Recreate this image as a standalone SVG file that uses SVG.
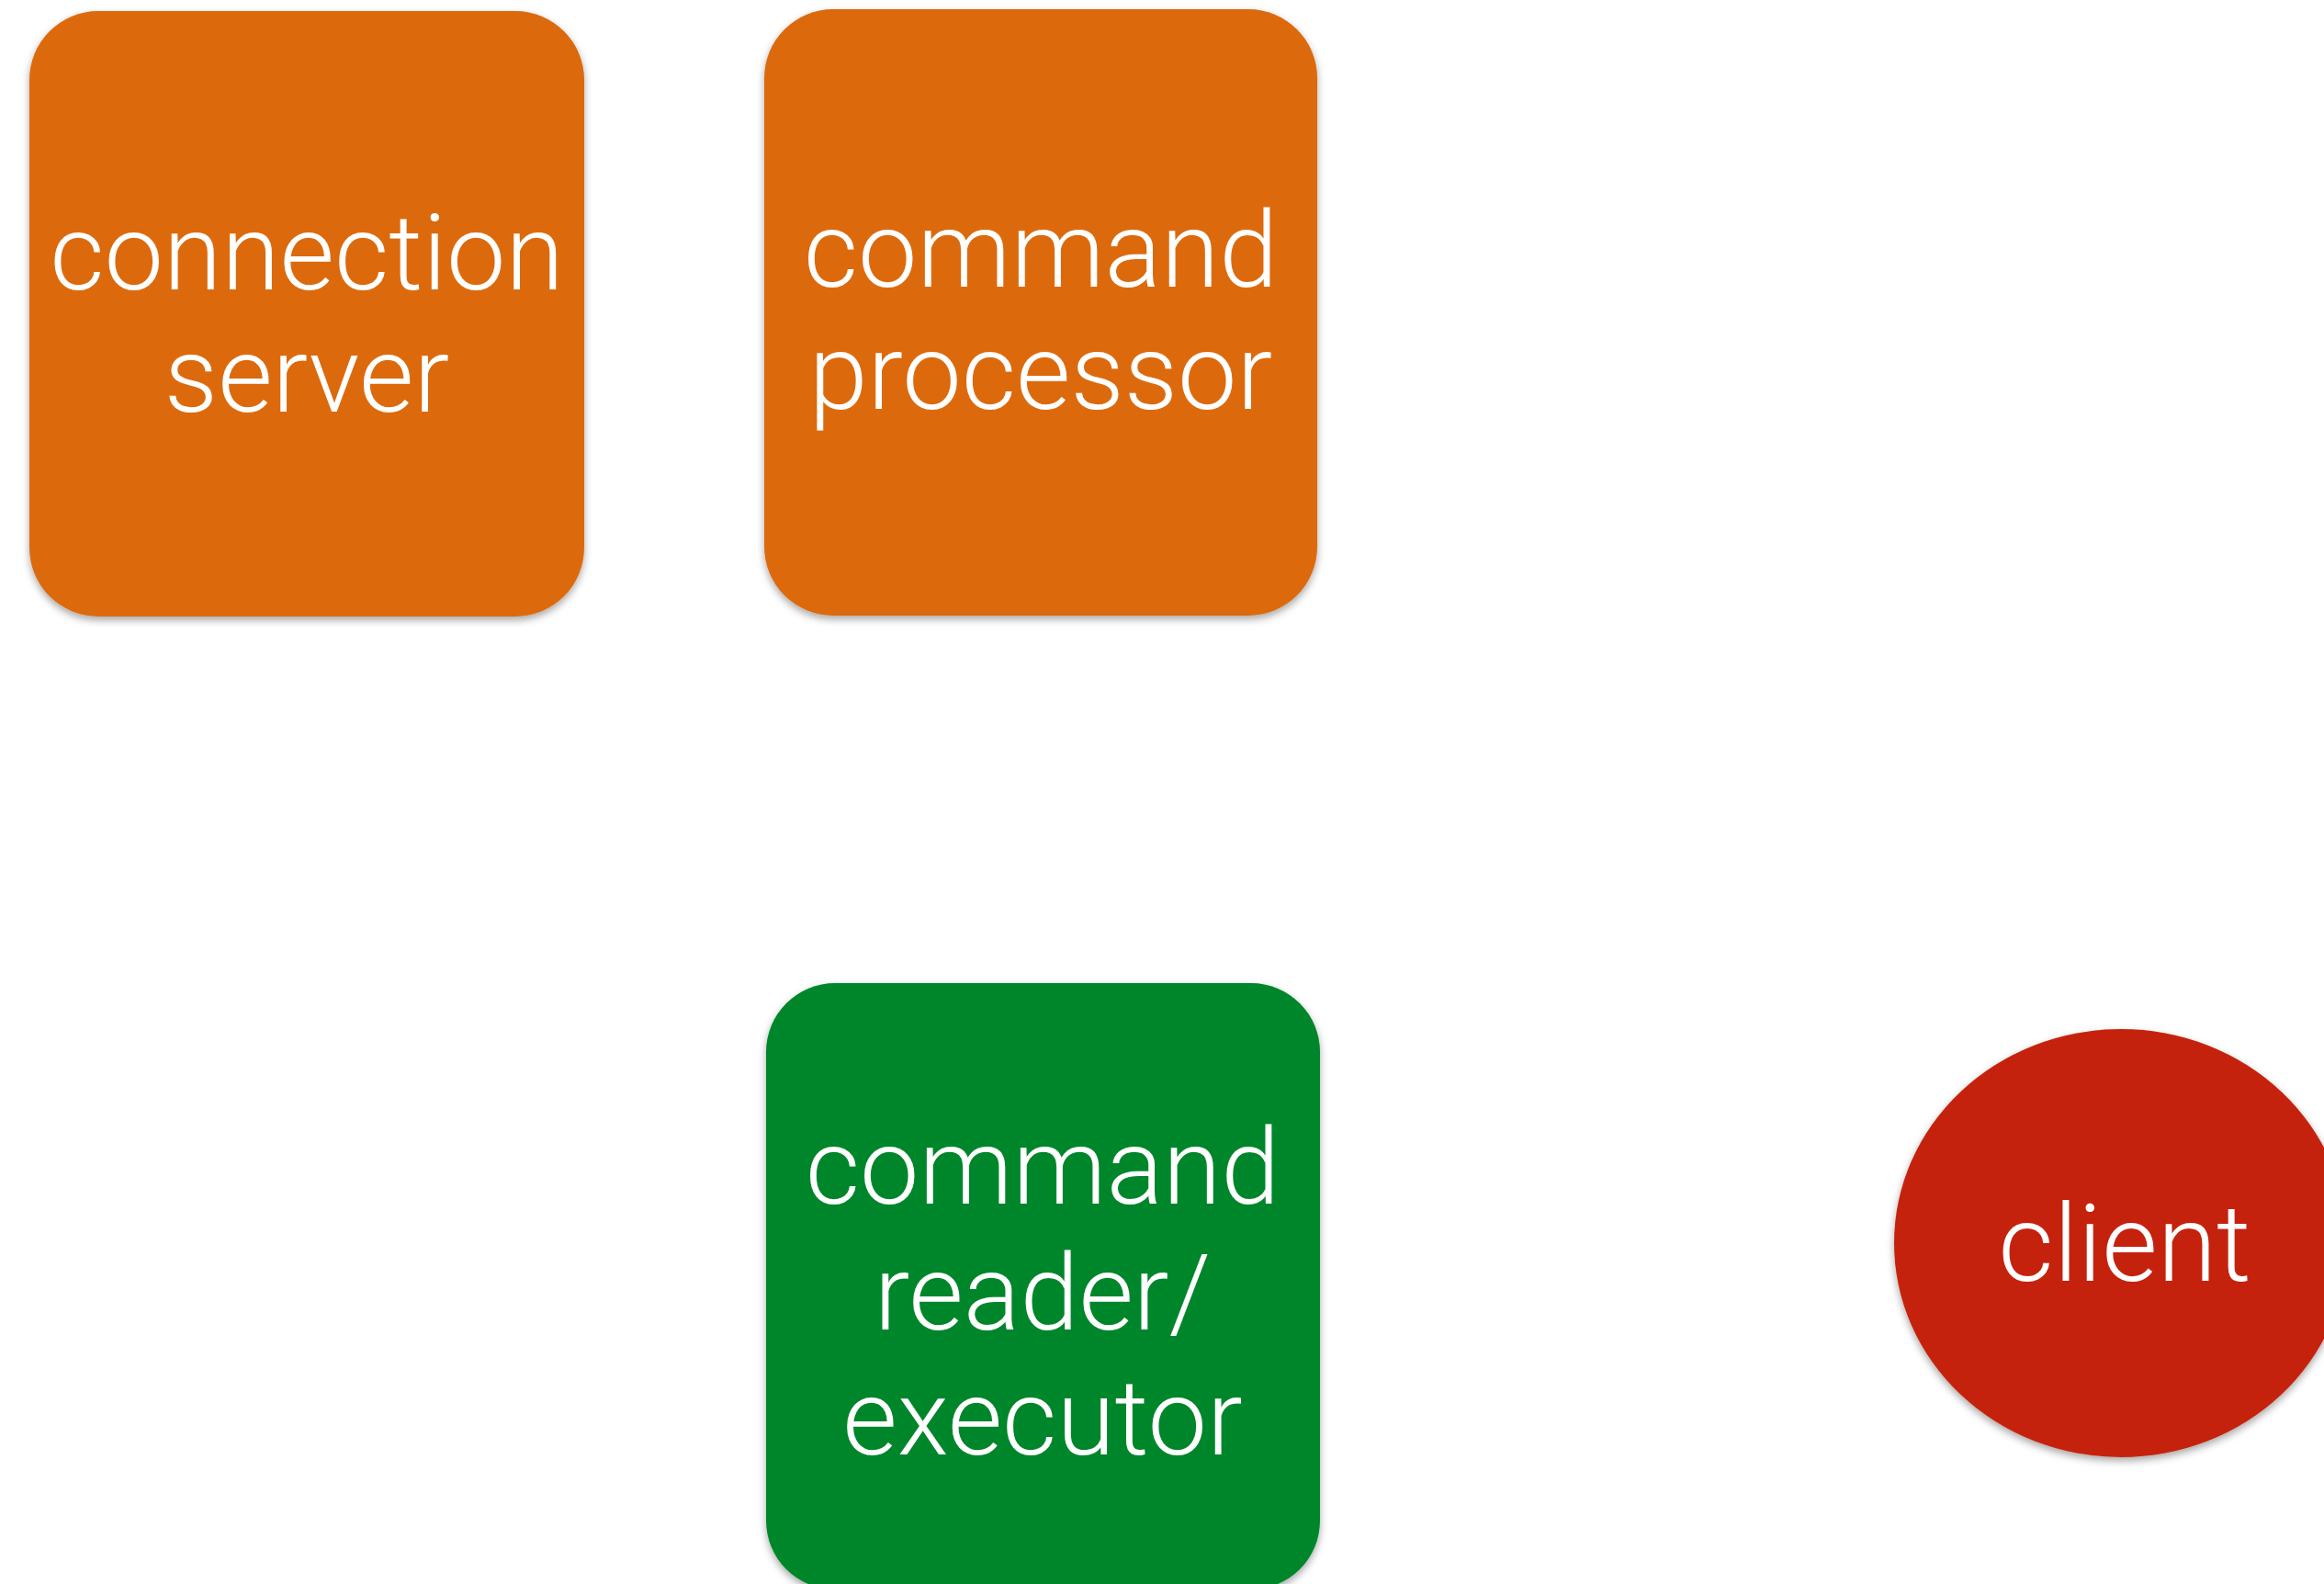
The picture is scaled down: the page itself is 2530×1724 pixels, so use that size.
<svg xmlns="http://www.w3.org/2000/svg" width="2530" height="1724" viewBox="0 0 2530 1724">
  <style>
    .label { font-family: Roboto, "Liberation Sans", "DejaVu Sans", sans-serif; font-weight: 300; font-size: 115px; fill: #ffffff; text-anchor: middle; }
    .orange { fill: #DC6A11; }
    .green { fill: #02862C; }
    .red { fill: #C52408; }
  </style>
  <defs>
    <filter id="shadow" x="-10%" y="-10%" width="120%" height="125%">
      <feDropShadow dx="0" dy="4" stdDeviation="4" flood-color="#000000" flood-opacity="0.35"/>
    </filter>
  </defs>
  <rect width="2530" height="1724" fill="#ffffff"/>

  <g id="connection-server">
    <rect class="orange" x="32" y="12" width="604" height="659" rx="75" ry="75" filter="url(#shadow)"/>
    <text class="label" x="334" y="315">connection</text>
    <text class="label" x="334" y="448">server</text>
  </g>

  <g id="command-processor">
    <rect class="orange" x="832" y="10" width="602" height="660" rx="75" ry="75" filter="url(#shadow)"/>
    <text class="label" x="1133" y="312">command</text>
    <text class="label" x="1133" y="445">processor</text>
  </g>

  <g id="command-reader-executor">
    <rect class="green" x="834" y="1070" width="603" height="660" rx="75" ry="75" filter="url(#shadow)"/>
    <text class="label" x="1135" y="1310">command</text>
    <text class="label" x="1135" y="1447">reader/</text>
    <text class="label" x="1135" y="1583">executor</text>
  </g>

  <g id="client">
    <ellipse class="red" cx="2309" cy="1353" rx="247" ry="233" filter="url(#shadow)"/>
    <text class="label" x="2313" y="1394" style="font-size:117px">client</text>
  </g>

  <g id="connectors"></g>
</svg>
